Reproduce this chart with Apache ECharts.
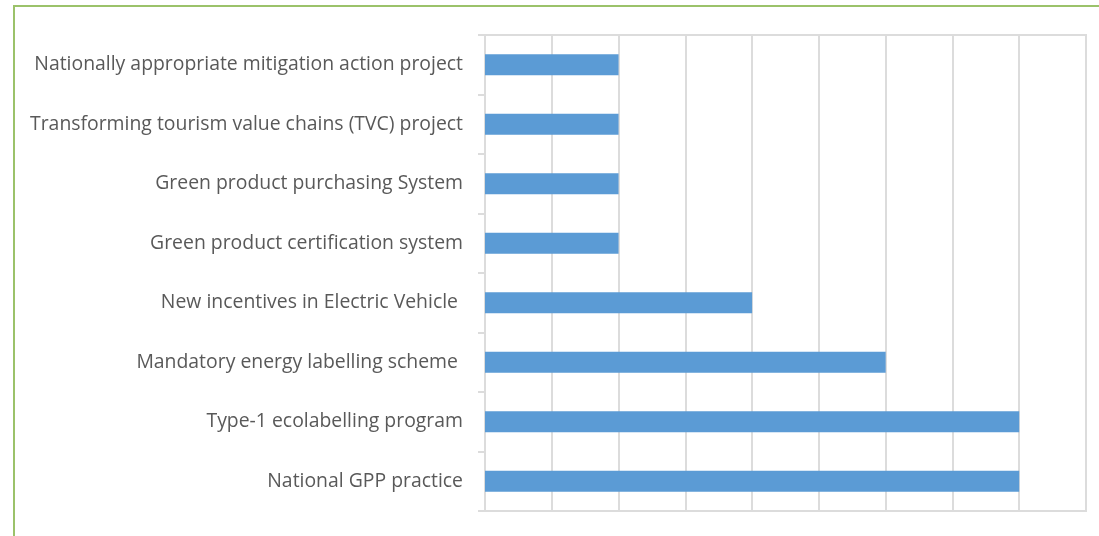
<!DOCTYPE html>
<html>
<head>
<meta charset="utf-8">
<script src="https://cdn.jsdelivr.net/npm/echarts@6/dist/echarts.min.js"></script>
<style>
html,body{margin:0;padding:0;background:#fff;}
#frame{position:absolute;left:13px;top:5px;width:1200px;height:600px;border-left:2px solid #9bc26a;border-top:2px solid #9bc26a;}
#chart{position:absolute;left:0;top:0;width:1099px;height:536px;}
</style>
</head>
<body>
<div id="frame"></div>
<div id="chart"></div>
<script>
const categories = [
  "Nationally appropriate mitigation action project",
  "Transforming tourism value chains (TVC) project",
  "Green product purchasing System",
  "Green product certification system",
  "New incentives in Electric Vehicle ",
  "Mandatory energy labelling scheme ",
  "Type-1 ecolabelling program",
  "National GPP practice"
];
const values = [2, 2, 2, 2, 4, 6, 8, 8];
const axisMax = 9;

const chart = echarts.init(document.getElementById('chart'), null, {renderer: 'canvas'});
chart.setOption({
  animation: false,
  grid: {left: 485, right: 13, top: 35, bottom: 25, containLabel: false,
         show: true, borderColor: '#dcdcdc', borderWidth: 2},
  xAxis: {
    type: 'value', min: 0, max: axisMax, interval: 1,
    axisLabel: {show: false},
    axisTick: {show: false},
    axisLine: {show: true, lineStyle: {color: '#dcdcdc', width: 2}},
    splitLine: {show: true, lineStyle: {color: '#dcdcdc', width: 2}}
  },
  yAxis: {
    type: 'category', data: categories, inverse: true,
    axisLine: {show: true, lineStyle: {color: '#dcdcdc', width: 2}},
    axisTick: {show: true, length: 7, lineStyle: {color: '#dcdcdc', width: 2}},
    axisLabel: {color: '#595959', fontSize: 19.4, fontFamily: 'Open Sans', margin: 22}
  },
  series: [{
    type: 'bar', data: values, barWidth: '35%',
    itemStyle: {color: '#5b9bd5'}
  }]
});
</script>
</body>
</html>
